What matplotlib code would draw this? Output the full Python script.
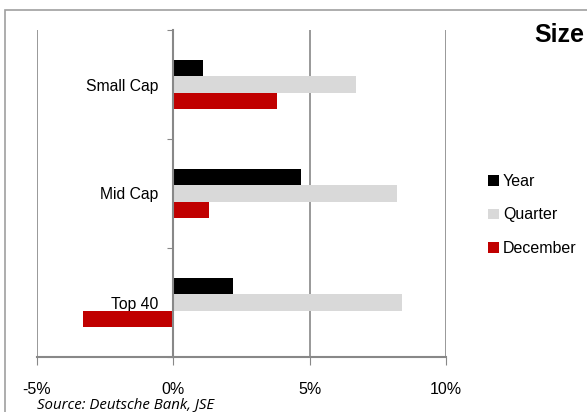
import matplotlib.pyplot as plt
from matplotlib.patches import Rectangle
import numpy as np

plt.rcParams['font.family'] = ['Liberation Sans', 'DejaVu Sans']

categories = ['Small Cap', 'Mid Cap', 'Top 40']
year = [1.1, 4.7, 2.2]
quarter = [6.7, 8.2, 8.4]
december = [3.8, 1.3, -3.3]
xticks = [-5, 0, 5, 10]

fig = plt.figure(figsize=(5.87, 4.12), dpi=100)
ax = fig.add_axes([37/587, 1 - 357/412, (446 - 37)/587, (357 - 30)/412])

pos = np.arange(len(categories)) + 0.5
h = 0.15
ax.barh(pos - h, year, height=h, color='black', label='Year')
ax.barh(pos, quarter, height=h, color='#d9d9d9', label='Quarter')
ax.barh(pos + h, december, height=h, color='#c00000', label='December')

ax.set_xlim(-5, 10)
ax.set_ylim(3, 0)
ax.set_xticks(xticks)
ax.set_xticklabels([f'{t}%' for t in xticks], fontsize=11.5)
ax.tick_params(axis='x', length=6, color='#888888', pad=12)
ax.xaxis.grid(True, color='#888888', lw=1.2)
ax.set_axisbelow(True)

ax.spines['top'].set_visible(False)
ax.spines['right'].set_visible(False)
ax.spines['left'].set_position(('data', 0))
ax.spines['left'].set_color('#888888')
ax.spines['left'].set_linewidth(1.5)
ax.spines['bottom'].set_color('#888888')
ax.spines['bottom'].set_linewidth(1.5)

ax.set_yticks([0, 1, 2, 3])
ax.set_yticklabels([])
ax.tick_params(axis='y', length=4, color='#888888')
ax.set_yticks(pos, minor=True)
ax.set_yticklabels(categories, minor=True, fontsize=11.3)
ax.tick_params(axis='y', which='minor', length=0, pad=11)

ax.legend(loc='center left', bbox_to_anchor=(482/587, 1 - 215/412),
          bbox_transform=fig.transFigure, frameon=False, fontsize=11.5,
          handlelength=0.65, handleheight=0.65, handletextpad=0.25,
          labelspacing=1.15, borderaxespad=0)

fig.text(584/587, 1 - 35/412, 'Size', ha='right', va='center',
         fontsize=18, fontweight='bold')
fig.text(37/587, 1 - 397/412, 'Source: Deutsche Bank, JSE', ha='left',
         va='top', fontsize=10.8, style='italic', family=['Open Sans', 'DejaVu Sans'])

fig.add_artist(Rectangle((5/587, -0.2), 1.2, 1.2 - 10/412,
                         transform=fig.transFigure, fill=False,
                         ec='#a0a0a0', lw=1.2, clip_on=False))

fig.savefig('out.png', dpi=100)
